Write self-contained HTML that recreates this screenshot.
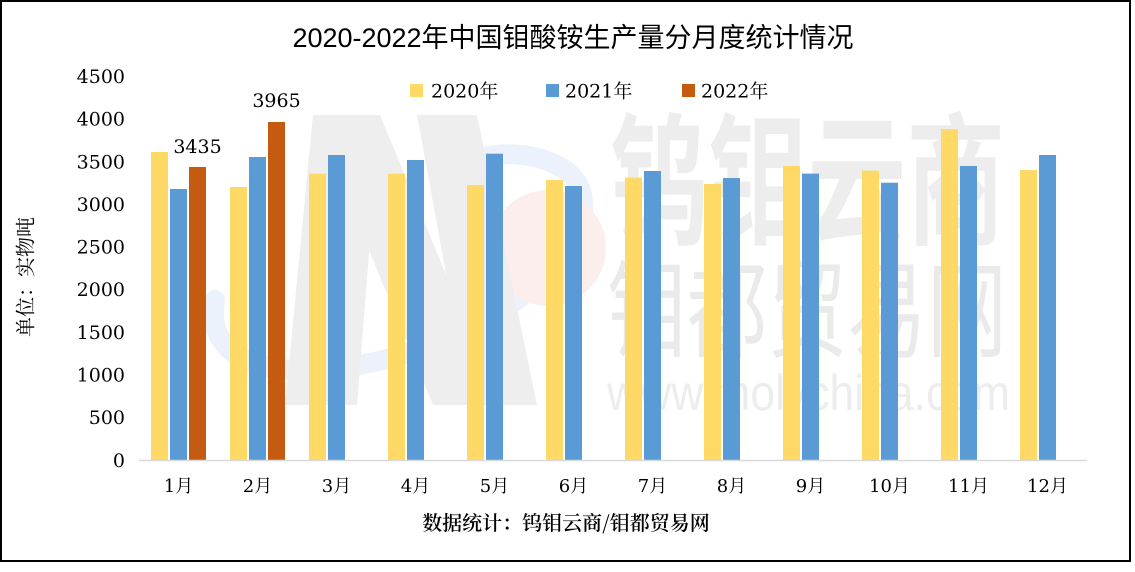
<!DOCTYPE html>
<html><head><meta charset="utf-8"><style>
html,body{margin:0;padding:0;background:#fff;}
svg{display:block;}
.t{font-family:"DejaVu Serif","Noto Serif CJK SC",serif;font-size:19px;fill:#000;}
</style></head><body>
<svg width="1135" height="572" viewBox="0 0 1135 572" xmlns="http://www.w3.org/2000/svg">
<rect x="0" y="0" width="1135" height="572" fill="#fff"/>
<!-- watermark -->
<g>
  <path d="M215,300 C200,385 330,385 440,342 C535,305 605,230 577,182 C562,160 522,150 490,156" fill="none" stroke="#ebf2fb" stroke-width="20" stroke-linecap="round"/>
  <circle cx="548" cy="248" r="58" fill="#fdeeee"/>
  <polygon points="313,115 380,115 357,405 285,405" fill="#eeeeee"/>
  <polygon points="313,115 380,115 500,405 433,405" fill="#eeeeee"/>
  <polygon points="417,115 477,115 537,405 470,405" fill="#eeeeee"/>
  <text x="610" y="238" font-family="Noto Sans CJK SC, sans-serif" font-weight="700" font-size="104" fill="#ededed" textLength="395" lengthAdjust="spacingAndGlyphs" transform="translate(0,-95) scale(1,1.38)" >钨钼云商</text>
  <text x="607" y="350" font-family="Noto Sans CJK SC, sans-serif" font-size="100" fill="#eaeaea" textLength="400" lengthAdjust="spacingAndGlyphs" transform="translate(0,-22) scale(1,1.06)">钼都贸易网</text>
  <text x="607" y="410" font-family="Liberation Sans, sans-serif" font-size="50" fill="#ededed" textLength="403" lengthAdjust="spacingAndGlyphs">www.molychina.com</text>
</g>
<!-- border -->
<rect x="1" y="1" width="1129" height="560" fill="none" stroke="#000" stroke-width="2"/>
<!-- title -->
<text x="573" y="47" text-anchor="middle" font-family="Liberation Sans, Noto Sans CJK SC, sans-serif" font-size="27" fill="#000">2020-2022年中国钼酸铵生产量分月度统计情况</text>
<!-- y ticks -->
<g class="t" text-anchor="end">
  <text x="125" y="467">0</text>
  <text x="125" y="424.2">500</text>
  <text x="125" y="381.6">1000</text>
  <text x="125" y="338.9">1500</text>
  <text x="125" y="296.2">2000</text>
  <text x="125" y="253.6">2500</text>
  <text x="125" y="210.9">3000</text>
  <text x="125" y="168.3">3500</text>
  <text x="125" y="125.6">4000</text>
  <text x="125" y="82.9">4500</text>
</g>
<!-- y axis title -->
<text transform="translate(24,277) rotate(-90)" text-anchor="middle" dominant-baseline="central" font-family="Noto Serif CJK SC, serif" font-size="20" fill="#000">单位：实物吨</text>
<!-- legend -->
<rect x="410" y="84" width="13" height="13" fill="#FFD966"/>
<text class="t" x="431" y="97.5">2020年</text>
<rect x="546" y="84" width="13" height="13" fill="#5B9BD5"/>
<text class="t" x="565" y="97.5">2021年</text>
<rect x="682" y="84" width="13" height="13" fill="#C55A11"/>
<text class="t" x="701" y="97.5">2022年</text>
<!-- bars -->
<g fill="#FFD966">
  <rect x="151" y="152" width="17" height="308"/>
  <rect x="230" y="187" width="17" height="273"/>
  <rect x="309" y="173.7" width="17" height="286.3"/>
  <rect x="388" y="173.7" width="17" height="286.3"/>
  <rect x="467" y="185" width="17" height="275"/>
  <rect x="546" y="180" width="17" height="280"/>
  <rect x="625" y="177.6" width="17" height="282.4"/>
  <rect x="704" y="184" width="17" height="276"/>
  <rect x="783" y="166" width="17" height="294"/>
  <rect x="862" y="170.6" width="17" height="289.4"/>
  <rect x="941" y="129" width="17" height="331"/>
  <rect x="1020" y="170" width="17" height="290"/>
</g>
<g fill="#5B9BD5">
  <rect x="170" y="189" width="17" height="271"/>
  <rect x="249" y="157" width="17" height="303"/>
  <rect x="328" y="155" width="17" height="305"/>
  <rect x="407" y="160" width="17" height="300"/>
  <rect x="486" y="153.7" width="17" height="306.3"/>
  <rect x="565" y="186" width="17" height="274"/>
  <rect x="644" y="171" width="17" height="289"/>
  <rect x="723" y="178" width="17" height="282"/>
  <rect x="802" y="173.6" width="17" height="286.4"/>
  <rect x="881" y="182.7" width="17" height="277.3"/>
  <rect x="960" y="166" width="17" height="294"/>
  <rect x="1039" y="155" width="17" height="305"/>
</g>
<g fill="#C55A11">
  <rect x="189" y="167" width="17" height="293"/>
  <rect x="268" y="122" width="17" height="338"/>
</g>
<!-- data labels -->
<text class="t" x="197.5" y="153" text-anchor="middle">3435</text>
<text class="t" x="276.5" y="107" text-anchor="middle">3965</text>
<!-- axis -->
<line x1="139" y1="460.5" x2="1087" y2="460.5" stroke="#d9d9d9" stroke-width="1.5"/>
<!-- x labels -->
<g class="t" text-anchor="middle" style="font-size:18px">
  <text x="178.5" y="492">1月</text>
  <text x="257.5" y="492">2月</text>
  <text x="336.5" y="492">3月</text>
  <text x="415.5" y="492">4月</text>
  <text x="494.5" y="492">5月</text>
  <text x="573.5" y="492">6月</text>
  <text x="652.5" y="492">7月</text>
  <text x="731.5" y="492">8月</text>
  <text x="810.5" y="492">9月</text>
  <text x="889.5" y="492">10月</text>
  <text x="968.5" y="492">11月</text>
  <text x="1047.5" y="492">12月</text>
</g>
<!-- footer -->
<text x="566" y="530" text-anchor="middle" font-family="Noto Serif CJK SC, serif" font-weight="600" font-size="20" fill="#000">数据统计：钨钼云商/钼都贸易网</text>
</svg>
</body></html>
